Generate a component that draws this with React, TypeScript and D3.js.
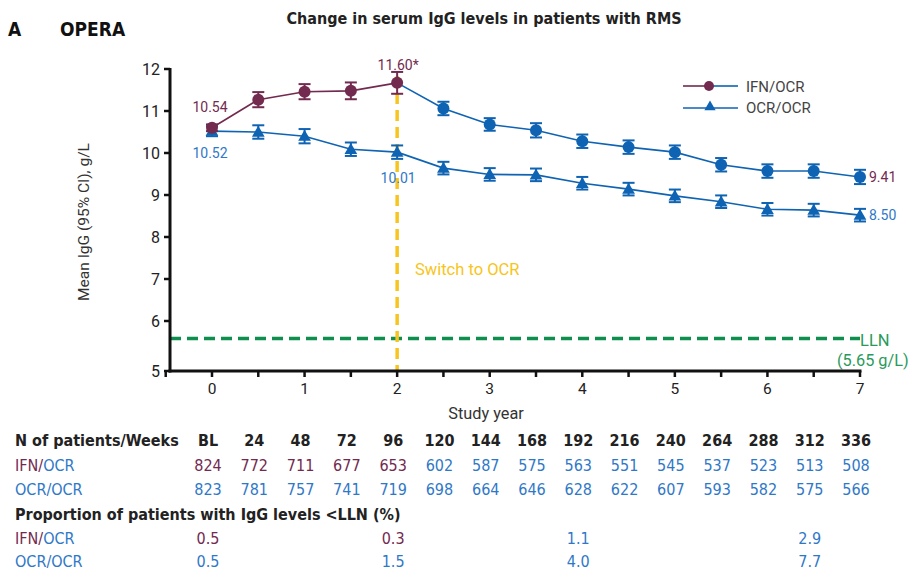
import React from "react";
import * as d3 from "d3";

const years = [0, 0.5, 1, 1.5, 2, 2.5, 3, 3.5, 4, 4.5, 5, 5.5, 6, 6.5, 7];
const ifnMean = [10.6, 11.27, 11.46, 11.48, 11.67, 11.06, 10.68, 10.54, 10.28, 10.14, 10.02, 9.72, 9.57, 9.57, 9.43];
const ifnCI = [0.08, 0.18, 0.18, 0.2, 0.26, 0.16, 0.15, 0.17, 0.16, 0.16, 0.16, 0.16, 0.16, 0.16, 0.17];
const ocrMean = [10.52, 10.5, 10.4, 10.09, 10.02, 9.64, 9.49, 9.48, 9.28, 9.14, 8.98, 8.84, 8.66, 8.64, 8.52];
const ocrCI = [0.12, 0.16, 0.17, 0.16, 0.16, 0.15, 0.15, 0.15, 0.15, 0.15, 0.15, 0.15, 0.15, 0.15, 0.15];

const yTicks = [5, 6, 7, 8, 9, 10, 11, 12];
const xTicks = [0, 1, 2, 3, 4, 5, 6, 7];
const xMinorTicks = [-0.5, 0, 0.5, 1, 1.5, 2, 2.5, 3, 3.5, 4, 4.5, 5, 5.5, 6, 6.5, 7];

const weeks = ["BL", "24", "48", "72", "96", "120", "144", "168", "192", "216", "240", "264", "288", "312", "336"];
const ifnN = [824, 772, 711, 677, 653, 602, 587, 575, 563, 551, 545, 537, 523, 513, 508];
const ocrN = [823, 781, 757, 741, 719, 698, 664, 646, 628, 622, 607, 593, 582, 575, 566];
const llnYears = [0, 2, 4, 6.5];
const ifnLLN = ["0.5", "0.3", "1.1", "2.9"];
const ocrLLN = ["0.5", "1.5", "4.0", "7.7"];
const llnValue = 5.65;
const switchYear = 2;

const PURPLE = "#722a4f";
const BLUE = "#0f63b3";
const BLUE_TXT = "#2f78c8";
const YELLOW = "#f7c520";
const GREEN = "#0f8f4e";
const GREEN_TXT = "#2a9a5c";
const NARROW = "'Liberation Sans Narrow', 'DejaVu Sans Condensed', 'Roboto', sans-serif";
const ROBOTO = "Roboto, 'Noto Sans', sans-serif";

export default function App() {
  const x = d3.scaleLinear().domain([0, 7]).range([212, 860]);
  const y = d3.scaleLinear().domain([5, 6, 12]).range([371, 321, 69]);
  const axisX = 170;
  const line = d3
    .line<number>()
    .x((_, i) => x(years[i]))
    .y((d) => y(d));
  const si = years.indexOf(switchYear);
  const tri = d3.symbol().type(d3.symbolTriangle).size(70)();
  const tableX = (v: number) => x(v) - 4;

  const errBar = (xv: number, m: number, ci: number, color: string, key: string) => (
    <g key={key} stroke={color} strokeWidth={2}>
      <line x1={x(xv)} x2={x(xv)} y1={y(m - ci)} y2={y(m + ci)} />
      <line x1={x(xv) - 6} x2={x(xv) + 6} y1={y(m - ci)} y2={y(m - ci)} />
      <line x1={x(xv) - 6} x2={x(xv) + 6} y1={y(m + ci)} y2={y(m + ci)} />
    </g>
  );

  return (
    <svg width={910} height={571} style={{ position: "absolute", left: 0, top: 0, background: "#fff" }}>
      <text x={8} y={36} fontFamily={NARROW} fontWeight="bold" fontSize={19} fill="#111">A</text>
      <text x={60} y={36} fontFamily={NARROW} fontWeight="bold" fontSize={19} fill="#111">OPERA</text>
      <text x={484} y={24} textAnchor="middle" fontFamily={NARROW} fontWeight="bold" fontSize={16} fill="#222">
        Change in serum IgG levels in patients with RMS
      </text>

      {/* LLN line */}
      <line x1={axisX} x2={x(7)} y1={y(llnValue)} y2={y(llnValue)} stroke={GREEN} strokeWidth={3.5} strokeDasharray="11,6" />
      <text x={x(7)} y={y(llnValue) + 7} fontFamily={ROBOTO} fontSize={16.5} fill={GREEN_TXT}>LLN</text>
      <text x={837} y={366} fontFamily={ROBOTO} fontSize={16.3} fill={GREEN_TXT}>(5.65 g/L)</text>

      {/* switch line */}
      <line x1={x(switchYear)} x2={x(switchYear)} y1={76} y2={371} stroke={YELLOW} strokeWidth={3.5} strokeDasharray="11,6" />
      <text x={415} y={275} fontFamily={ROBOTO} fontSize={16.5} fill={YELLOW}>Switch to OCR</text>

      {/* axes */}
      <g stroke="#111" strokeWidth={3}>
        <line x1={axisX} x2={axisX} y1={y(12) - 1} y2={y(5) + 1.5} />
        <line x1={axisX - 1.5} x2={x(7) + 1.5} y1={y(5)} y2={y(5)} />
      </g>
      {yTicks.map((t) => (
        <g key={"yt" + t}>
          <line x1={axisX - 6} x2={axisX} y1={y(t)} y2={y(t)} stroke="#111" strokeWidth={2.5} />
          <text x={axisX - 10} y={y(t) + 6} textAnchor="end" fontFamily={ROBOTO} fontSize={16} fill="#222">{t}</text>
        </g>
      ))}
      {xMinorTicks.map((t) => (
        <line key={"xt" + t} x1={x(t)} x2={x(t)} y1={y(5)} y2={y(5) + 6} stroke="#111" strokeWidth={2.5} />
      ))}
      {xTicks.map((t) => (
        <text key={"xl" + t} x={x(t)} y={394} textAnchor="middle" fontFamily={ROBOTO} fontSize={15.5} fill="#222">{t}</text>
      ))}
      <text x={486} y={419} textAnchor="middle" fontFamily={ROBOTO} fontSize={16.3} fill="#333">Study year</text>
      <text transform={`translate(89,222) rotate(-90)`} textAnchor="middle" fontFamily={ROBOTO} fontSize={15.5} fill="#333">
        Mean IgG (95% CI), g/L
      </text>

      {/* OCR/OCR series */}
      <path d={line(ocrMean) || ""} fill="none" stroke={BLUE} strokeWidth={1.6} />
      {ocrMean.map((m, i) => errBar(years[i], m, ocrCI[i], BLUE, "oe" + i))}
      {ocrMean.map((m, i) => (
        <path key={"om" + i} d={tri || ""} transform={`translate(${x(years[i])},${y(m) + 1})`} fill={BLUE} />
      ))}

      {/* IFN/OCR series */}
      <path d={line(ifnMean.slice(0, si + 1)) || ""} fill="none" stroke={PURPLE} strokeWidth={1.6} />
      <path
        d={d3.line<number>().x((_, i) => x(years[i + si])).y((d) => y(d))(ifnMean.slice(si)) || ""}
        fill="none"
        stroke={BLUE}
        strokeWidth={1.6}
      />
      {ifnMean.map((m, i) => errBar(years[i], m, ifnCI[i], i <= si ? PURPLE : BLUE, "ie" + i))}
      {ifnMean.map((m, i) => (
        <circle key={"im" + i} cx={x(years[i])} cy={y(m)} r={6} fill={i <= si ? PURPLE : BLUE} />
      ))}

      {/* value labels */}
      <text x={x(0) - 2} y={112} textAnchor="middle" fontFamily={ROBOTO} fontSize={14} fill={PURPLE}>10.54</text>
      <text x={x(0) - 2} y={158} textAnchor="middle" fontFamily={ROBOTO} fontSize={14} fill={BLUE_TXT}>10.52</text>
      <text x={x(2) + 1} y={70} textAnchor="middle" fontFamily={ROBOTO} fontSize={14} fill={PURPLE}>11.60*</text>
      <text x={x(2) + 1} y={183} textAnchor="middle" fontFamily={ROBOTO} fontSize={14} fill={BLUE_TXT}>10.01</text>
      <text x={x(7) + 9} y={y(ifnMean[14]) + 5} fontFamily={ROBOTO} fontSize={14} fill={PURPLE}>9.41</text>
      <text x={x(7) + 9} y={y(ocrMean[14]) + 5} fontFamily={ROBOTO} fontSize={14} fill={BLUE_TXT}>8.50</text>

      {/* legend */}
      <line x1={683} x2={710} y1={86} y2={86} stroke={PURPLE} strokeWidth={1.6} />
      <line x1={710} x2={738} y1={86} y2={86} stroke={BLUE} strokeWidth={1.6} />
      <circle cx={709} cy={86} r={5} fill={PURPLE} />
      <text x={746} y={92} fontFamily={ROBOTO} fontSize={15} fill="#444">IFN/OCR</text>
      <line x1={683} x2={738} y1={108} y2={108} stroke={BLUE} strokeWidth={1.6} />
      <path d={d3.symbol().type(d3.symbolTriangle).size(55)() || ""} transform="translate(710,107)" fill={BLUE} />
      <text x={746} y={113} fontFamily={ROBOTO} fontSize={15} fill="#444">OCR/OCR</text>

      {/* table */}
      <g fontFamily={NARROW} fontSize={16}>
        <text x={15} y={446} fontWeight="bold" fill="#222">N of patients/Weeks</text>
        {weeks.map((w, i) => (
          <text key={"w" + i} x={tableX(years[i])} y={446} textAnchor="middle" fontWeight="bold" fill="#222">{w}</text>
        ))}
        <text x={15} y={471}>
          <tspan fill={PURPLE}>IFN/</tspan>
          <tspan fill={BLUE_TXT}>OCR</tspan>
        </text>
        {ifnN.map((n, i) => (
          <text key={"in" + i} x={tableX(years[i])} y={471} textAnchor="middle" fill={i <= si ? PURPLE : BLUE_TXT}>{n}</text>
        ))}
        <text x={15} y={495} fill={BLUE_TXT}>OCR/OCR</text>
        {ocrN.map((n, i) => (
          <text key={"on" + i} x={tableX(years[i])} y={495} textAnchor="middle" fill={BLUE_TXT}>{n}</text>
        ))}
        <text x={15} y={520} fontWeight="bold" fill="#222">Proportion of patients with IgG levels &lt;LLN (%)</text>
        <text x={15} y={544}>
          <tspan fill={PURPLE}>IFN/</tspan>
          <tspan fill={BLUE_TXT}>OCR</tspan>
        </text>
        {ifnLLN.map((v, i) => (
          <text key={"il" + i} x={tableX(llnYears[i])} y={544} textAnchor="middle" fill={llnYears[i] <= switchYear ? PURPLE : BLUE_TXT}>{v}</text>
        ))}
        <text x={15} y={567} fill={BLUE_TXT}>OCR/OCR</text>
        {ocrLLN.map((v, i) => (
          <text key={"ol" + i} x={tableX(llnYears[i])} y={567} textAnchor="middle" fill={BLUE_TXT}>{v}</text>
        ))}
      </g>
    </svg>
  );
}
